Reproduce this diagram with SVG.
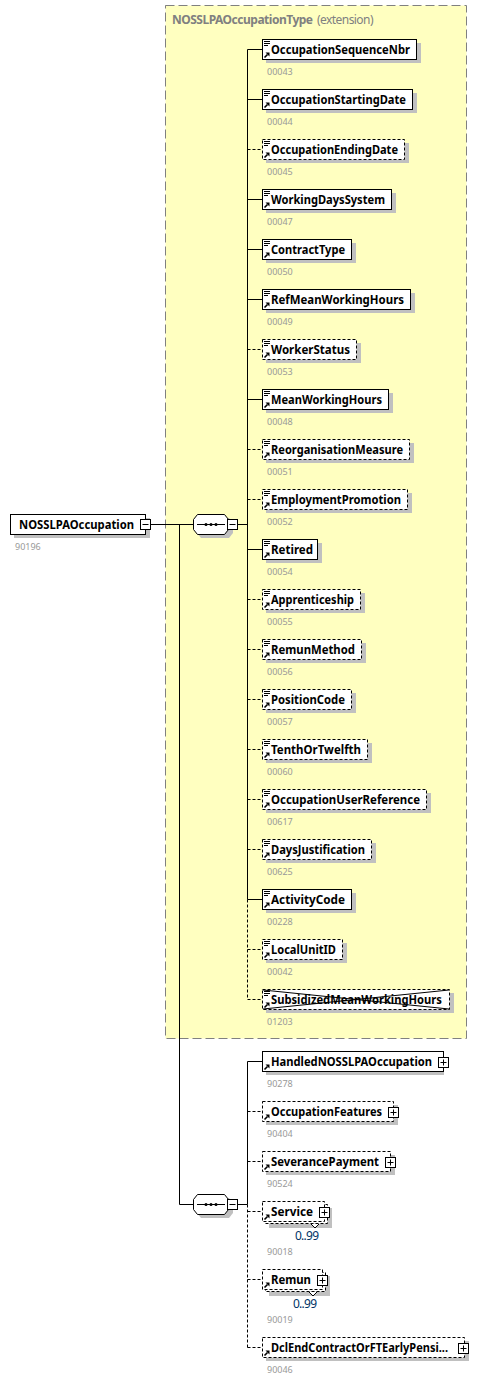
<svg xmlns="http://www.w3.org/2000/svg" width="496" height="1382" viewBox="0 0 496 1382">
<style>
text{font-family:"Noto Sans","Open Sans","Liberation Sans",sans-serif}
.n{font-weight:700;font-size:12.5px;fill:#000}
.i{font-size:9px;fill:#999}
.o{font-size:12px;fill:#003366}
.b{fill:#fff;stroke:#000;stroke-width:1}
.d{fill:#fff;stroke:#000;stroke-width:1;stroke-dasharray:3 2}
.s{fill:#c0c0c0}
.c{fill:none;stroke:#000;stroke-width:1}
.e{fill:none;stroke:#000;stroke-width:1;stroke-dasharray:3 2}
.x{fill:#fff;stroke:#000;stroke-width:1}
</style>
<defs>
<g id="arrow"><path d="M264.5 57.5L267.5 54.5" stroke="#000" stroke-width="1.6" fill="none"/><path d="M265.500 52.500H269.500V56.500Z" fill="#000"/></g>
<g id="lines"><path d="M264 41.500H270M264 43.500H270M264 45.500H268" stroke="#000" stroke-width="1" fill="none"/></g>
<g id="plus"><rect class="x" x="-4.500" y="-4.500" width="10" height="10"/><path d="M-2.500 .5H3.500M.5 -2.500V3.500" stroke="#000" fill="none"/></g>
<g id="minus"><rect class="x" x="-4.500" y="-4.500" width="10" height="10"/><path d="M-2.500 .5H3.500" stroke="#000" fill="none"/></g>
</defs>
<rect id="NOSSLPAOccupationType-bg" x="165.500" y="5.500" width="301" height="1033" fill="#ffffc0" stroke="#808080" stroke-dasharray="9 4"/>
<text x="172" y="24" font-size="12" fill="#808080"><tspan font-weight="700" textLength="141">NOSSLPAOccupationType</tspan><tspan dx="2" textLength="59"> (extension)</tspan></text>
<g id="connectors">
<path class="c" d="M150 524.500H193M179.500 524.500V1204.500H193M238 524.500H247.500M238 1204.500H247.500"/>
<path class="c" d="M247.500 49.500V899.500M247.500 1061.500V1204.500"/>
<path class="e" d="M247.500 899.500V999.500M247.500 1204.500V1347.500"/>
<path class="c" d="M247.500 49.500H262M247.500 99.500H262M247.500 199.500H262M247.500 249.500H262M247.500 299.500H262M247.500 399.500H262M247.500 549.500H262M247.500 899.500H262M247.500 1061.500H262"/>
<path class="e" d="M247.500 149.500H262M247.500 349.500H262M247.500 449.500H262M247.500 499.500H262M247.500 599.500H262M247.500 649.500H262M247.500 699.500H262M247.500 749.500H262M247.500 799.500H262M247.500 849.500H262M247.500 949.500H262M247.500 999.500H262M247.500 1111.500H262M247.500 1161.500H262M247.500 1211.500H262M247.500 1279.500H262M247.500 1347.500H262"/>
</g>
<g id="NOSSLPAOccupation"><rect class="s" x="14" y="518" width="136" height="20"/><rect class="b" x="10.500" y="514.500" width="135" height="20"/><text class="n" x="19" y="529" textLength="115" lengthAdjust="spacingAndGlyphs">NOSSLPAOccupation</text><use href="#minus" x="145" y="524"/><text class="i" x="15" y="550">90196</text></g>
<g id="seq1"><path class="s" d="M201 518H229L233 523V533L229 538H201L197 533V523Z"/><path class="b" d="M197.500 514.500H224.500L228.500 519.500V529.500L224.500 534.500H197.500L193.500 529.500V519.500Z"/><path d="M197 524.500H225" stroke="#000"/><circle cx="206" cy="524.500" r="1.500"/><circle cx="211" cy="524.500" r="1.500"/><circle cx="216" cy="524.500" r="1.500"/><use href="#minus" x="232" y="524"/></g>
<g id="seq2"><path class="s" d="M201 1198H229L233 1203V1213L229 1218H201L197 1213V1203Z"/><path class="b" d="M197.500 1194.500H224.500L228.500 1199.500V1209.500L224.500 1214.500H197.500L193.500 1209.500V1199.500Z"/><path d="M197 1204.500H225" stroke="#000"/><circle cx="206" cy="1204.500" r="1.500"/><circle cx="211" cy="1204.500" r="1.500"/><circle cx="216" cy="1204.500" r="1.500"/><use href="#minus" x="232" y="1204"/></g>
<g id="OccupationSequenceNbr"><rect class="s" x="266" y="43" width="155" height="20"/><rect class="b" x="262.500" y="39.500" width="154" height="20"/><use href="#lines"/><use href="#arrow"/><text class="n" x="271" y="54" textLength="139" lengthAdjust="spacingAndGlyphs">OccupationSequenceNbr</text><text class="i" x="267" y="75">00043</text></g>
<g id="OccupationStartingDate" transform="translate(0,50)"><rect class="s" x="266" y="43" width="151" height="20"/><rect class="b" x="262.500" y="39.500" width="150" height="20"/><use href="#lines"/><use href="#arrow"/><text class="n" x="271" y="54" textLength="135" lengthAdjust="spacingAndGlyphs">OccupationStartingDate</text><text class="i" x="267" y="75">00044</text></g>
<g id="OccupationEndingDate" transform="translate(0,100)"><rect class="s" x="266" y="43" width="143" height="20"/><rect class="d" x="262.500" y="39.500" width="142" height="20"/><use href="#lines"/><use href="#arrow"/><text class="n" x="271" y="54" textLength="127" lengthAdjust="spacingAndGlyphs">OccupationEndingDate</text><text class="i" x="267" y="75">00045</text></g>
<g id="WorkingDaysSystem" transform="translate(0,150)"><rect class="s" x="266" y="43" width="130" height="20"/><rect class="b" x="262.500" y="39.500" width="129" height="20"/><use href="#lines"/><use href="#arrow"/><text class="n" x="271" y="54" textLength="114" lengthAdjust="spacingAndGlyphs">WorkingDaysSystem</text><text class="i" x="267" y="75">00047</text></g>
<g id="ContractType" transform="translate(0,200)"><rect class="s" x="266" y="43" width="90" height="20"/><rect class="b" x="262.500" y="39.500" width="89" height="20"/><use href="#lines"/><use href="#arrow"/><text class="n" x="271" y="54" textLength="74" lengthAdjust="spacingAndGlyphs">ContractType</text><text class="i" x="267" y="75">00050</text></g>
<g id="RefMeanWorkingHours" transform="translate(0,250)"><rect class="s" x="266" y="43" width="149" height="20"/><rect class="b" x="262.500" y="39.500" width="148" height="20"/><use href="#lines"/><use href="#arrow"/><text class="n" x="271" y="54" textLength="133" lengthAdjust="spacingAndGlyphs">RefMeanWorkingHours</text><text class="i" x="267" y="75">00049</text></g>
<g id="WorkerStatus" transform="translate(0,300)"><rect class="s" x="266" y="43" width="95" height="20"/><rect class="d" x="262.500" y="39.500" width="94" height="20"/><use href="#lines"/><use href="#arrow"/><text class="n" x="271" y="54" textLength="79" lengthAdjust="spacingAndGlyphs">WorkerStatus</text><text class="i" x="267" y="75">00053</text></g>
<g id="MeanWorkingHours" transform="translate(0,350)"><rect class="s" x="266" y="43" width="127" height="20"/><rect class="b" x="262.500" y="39.500" width="126" height="20"/><use href="#lines"/><use href="#arrow"/><text class="n" x="271" y="54" textLength="111" lengthAdjust="spacingAndGlyphs">MeanWorkingHours</text><text class="i" x="267" y="75">00048</text></g>
<g id="ReorganisationMeasure" transform="translate(0,400)"><rect class="s" x="266" y="43" width="148" height="20"/><rect class="d" x="262.500" y="39.500" width="147" height="20"/><use href="#lines"/><use href="#arrow"/><text class="n" x="271" y="54" textLength="132" lengthAdjust="spacingAndGlyphs">ReorganisationMeasure</text><text class="i" x="267" y="75">00051</text></g>
<g id="EmploymentPromotion" transform="translate(0,450)"><rect class="s" x="266" y="43" width="146" height="20"/><rect class="d" x="262.500" y="39.500" width="145" height="20"/><use href="#lines"/><use href="#arrow"/><text class="n" x="271" y="54" textLength="130" lengthAdjust="spacingAndGlyphs">EmploymentPromotion</text><text class="i" x="267" y="75">00052</text></g>
<g id="Retired" transform="translate(0,500)"><rect class="s" x="266" y="43" width="56" height="20"/><rect class="b" x="262.500" y="39.500" width="55" height="20"/><use href="#lines"/><use href="#arrow"/><text class="n" x="271" y="54" textLength="42" lengthAdjust="spacingAndGlyphs">Retired</text><text class="i" x="267" y="75">00054</text></g>
<g id="Apprenticeship" transform="translate(0,550)"><rect class="s" x="266" y="43" width="99" height="20"/><rect class="d" x="262.500" y="39.500" width="98" height="20"/><use href="#lines"/><use href="#arrow"/><text class="n" x="271" y="54" textLength="83" lengthAdjust="spacingAndGlyphs">Apprenticeship</text><text class="i" x="267" y="75">00055</text></g>
<g id="RemunMethod" transform="translate(0,600)"><rect class="s" x="266" y="43" width="100" height="20"/><rect class="d" x="262.500" y="39.500" width="99" height="20"/><use href="#lines"/><use href="#arrow"/><text class="n" x="271" y="54" textLength="84" lengthAdjust="spacingAndGlyphs">RemunMethod</text><text class="i" x="267" y="75">00056</text></g>
<g id="PositionCode" transform="translate(0,650)"><rect class="s" x="266" y="43" width="90" height="20"/><rect class="d" x="262.500" y="39.500" width="89" height="20"/><use href="#lines"/><use href="#arrow"/><text class="n" x="271" y="54" textLength="74" lengthAdjust="spacingAndGlyphs">PositionCode</text><text class="i" x="267" y="75">00057</text></g>
<g id="TenthOrTwelfth" transform="translate(0,700)"><rect class="s" x="266" y="43" width="106" height="20"/><rect class="d" x="262.500" y="39.500" width="105" height="20"/><use href="#lines"/><use href="#arrow"/><text class="n" x="271" y="54" textLength="90" lengthAdjust="spacingAndGlyphs">TenthOrTwelfth</text><text class="i" x="267" y="75">00060</text></g>
<g id="OccupationUserReference" transform="translate(0,750)"><rect class="s" x="266" y="43" width="165" height="20"/><rect class="d" x="262.500" y="39.500" width="164" height="20"/><use href="#lines"/><use href="#arrow"/><text class="n" x="271" y="54" textLength="149" lengthAdjust="spacingAndGlyphs">OccupationUserReference</text><text class="i" x="267" y="75">00617</text></g>
<g id="DaysJustification" transform="translate(0,800)"><rect class="s" x="266" y="43" width="110" height="20"/><rect class="d" x="262.500" y="39.500" width="109" height="20"/><use href="#lines"/><use href="#arrow"/><text class="n" x="271" y="54" textLength="94" lengthAdjust="spacingAndGlyphs">DaysJustification</text><text class="i" x="267" y="75">00625</text></g>
<g id="ActivityCode" transform="translate(0,850)"><rect class="s" x="266" y="43" width="90" height="20"/><rect class="b" x="262.500" y="39.500" width="89" height="20"/><use href="#lines"/><use href="#arrow"/><text class="n" x="271" y="54" textLength="74" lengthAdjust="spacingAndGlyphs">ActivityCode</text><text class="i" x="267" y="75">00228</text></g>
<g id="LocalUnitID" transform="translate(0,900)"><rect class="s" x="266" y="43" width="81" height="20"/><rect class="d" x="262.500" y="39.500" width="80" height="20"/><use href="#lines"/><use href="#arrow"/><text class="n" x="271" y="54" textLength="65" lengthAdjust="spacingAndGlyphs">LocalUnitID</text><text class="i" x="267" y="75">00042</text></g>
<g id="SubsidizedMeanWorkingHours" transform="translate(0,950)"><rect class="s" x="266" y="43" width="188" height="20"/><rect class="d" x="262.500" y="39.500" width="187" height="20"/><use href="#lines"/><use href="#arrow"/><path class="c" d="M263 40L449 59M263 59L449 40"/><text class="n" x="271" y="54" textLength="171" lengthAdjust="spacingAndGlyphs">SubsidizedMeanWorkingHours</text><text class="i" x="267" y="75">01203</text></g>
<g id="HandledNOSSLPAOccupation" transform="translate(0,1012)"><rect class="s" x="266" y="43" width="178" height="20"/><rect class="b" x="262.500" y="39.500" width="181" height="20"/><use href="#arrow"/><text class="n" x="271" y="54" textLength="161" lengthAdjust="spacingAndGlyphs">HandledNOSSLPAOccupation</text><use href="#plus" x="443" y="50"/><text class="i" x="267" y="75">90278</text></g>
<g id="OccupationFeatures" transform="translate(0,1062)"><rect class="s" x="266" y="43" width="132" height="20"/><rect class="d" x="262.500" y="39.500" width="131" height="20"/><use href="#arrow"/><text class="n" x="271" y="54" textLength="111" lengthAdjust="spacingAndGlyphs">OccupationFeatures</text><use href="#plus" x="393" y="50"/><text class="i" x="267" y="75">90404</text></g>
<g id="SeverancePayment" transform="translate(0,1112)"><rect class="s" x="266" y="43" width="129" height="20"/><rect class="d" x="262.500" y="39.500" width="128" height="20"/><use href="#arrow"/><text class="n" x="271" y="54" textLength="108" lengthAdjust="spacingAndGlyphs">SeverancePayment</text><use href="#plus" x="390" y="50"/><text class="i" x="267" y="75">90524</text></g>
<g id="Service"><rect class="s" x="269" y="1208" width="63" height="20"/><rect class="d" x="265.500" y="1204.500" width="62" height="19"/><rect class="d" x="262.500" y="1201.500" width="62" height="20"/><use href="#arrow" y="1162"/><text class="n" x="271" y="1216" textLength="42" lengthAdjust="spacingAndGlyphs">Service</text><use href="#plus" x="324" y="1212"/><path class="b" d="M311 1224L315 1228L319 1224"/><text class="o" x="295" y="1240" textLength="24">0..99</text><text class="i" x="267" y="1255">90018</text></g>
<g id="Remun"><rect class="s" x="269" y="1276" width="61" height="20"/><rect class="d" x="265.500" y="1272.500" width="60" height="19"/><rect class="d" x="262.500" y="1269.500" width="60" height="20"/><use href="#arrow" y="1230"/><text class="n" x="271" y="1284" textLength="40" lengthAdjust="spacingAndGlyphs">Remun</text><use href="#plus" x="322" y="1280"/><path class="b" d="M309 1292L313 1296L317 1292"/><text class="o" x="293" y="1308" textLength="24">0..99</text><text class="i" x="267" y="1323">90019</text></g>
<g id="DclEndContractOrFTEarlyPensi" transform="translate(0,1298)"><rect class="s" x="266" y="43" width="203" height="20"/><rect class="d" x="262.500" y="39.500" width="202" height="20"/><use href="#arrow"/><text class="n" x="271" y="54" textLength="177" lengthAdjust="spacingAndGlyphs">DclEndContractOrFTEarlyPensi...</text><use href="#plus" x="463" y="50"/><text class="i" x="267" y="75">90046</text></g>
</svg>
